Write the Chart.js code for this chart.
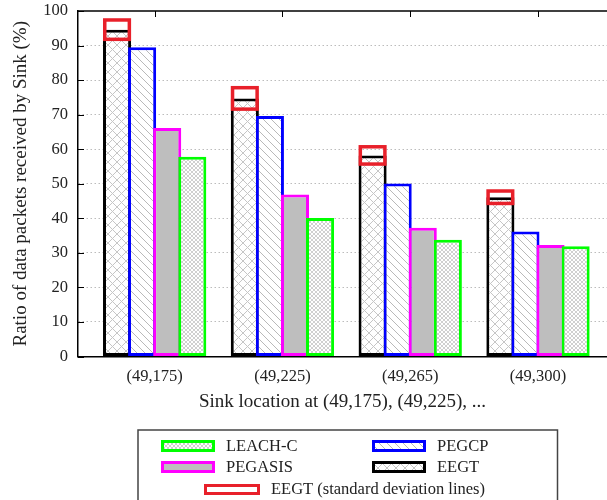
<!DOCTYPE html>
<html>
<head>
<meta charset="utf-8">
<script src="https://cdn.jsdelivr.net/npm/chart.js@4/dist/chart.umd.min.js"></script>
<style>
  html, body { margin: 0; padding: 0; background: #fff; }
  canvas { display: block; }
</style>
</head>
<body>
<canvas id="chart" width="607" height="500"></canvas>
<script>
// Ratio of data packets received by sink, per sink location
const categories = ["(49,175)", "(49,225)", "(49,265)", "(49,300)"];
const eegt    = [94.6, 74.7, 58.2, 46.1];
const eegtSd  = [2.8, 3.1, 2.5, 1.8];
const pegcp   = [89.5, 69.6, 50.1, 36.2];
const pegasis = [66.1, 46.9, 37.3, 32.3];
const leachC  = [57.8, 40.1, 33.8, 31.9];
const yTicks  = [0, 10, 20, 30, 40, 50, 60, 70, 80, 90, 100];

const FONT = "'Liberation Serif', 'Times New Roman', serif";
const TEXT = "#222";
Chart.defaults.font.family = FONT;
Chart.defaults.color = TEXT;

// hatch patterns (gnuplot-ish fill styles)
function pattern(size, fg, drawLines){
  const c = document.createElement("canvas");
  c.width = c.height = size;
  const g = c.getContext("2d");
  g.fillStyle = "#fff";
  g.fillRect(0, 0, size, size);
  g.strokeStyle = fg;
  g.lineWidth = 1;
  g.beginPath();
  drawLines(g, size);
  g.stroke();
  return g.createPattern(c, "repeat");
}
function back(g, s){ for(const k of [-s, 0, s]){ g.moveTo(k - 1, -1); g.lineTo(k + s + 1, s + 1); } }
function fwd(g, s){ for(const k of [-s, 0, s]){ g.moveTo(k - 1, s + 1); g.lineTo(k + s + 1, -1); } }

const crossBig   = pattern(9, "#c6c6c6", (g, s) => { back(g, s); fwd(g, s); });
const diagBack   = pattern(8, "#b9b9b9", back);
const crossSmall = pattern(4, "#d0d0d0", (g, s) => { back(g, s); fwd(g, s); });

const pts = arr => arr.map((v, i) => ({ x: i, y: v }));

const drawOrder = {
  id: "drawOrder",
  beforeDatasetsDraw(chart){
    // left-to-right so each bar's edge sits over the previous one
    chart.getSortedVisibleDatasetMetas().forEach(m => m.controller.draw());
    return false;
  }
};

// EEGT std-dev boxes, frame, inward ticks and the boxed legend
const extras = {
  id: "extras",
  afterDraw(chart){
    const { ctx, chartArea: a, scales: { x, y } } = chart;
    ctx.save();

    ctx.strokeStyle = "#000";
    ctx.lineWidth = 1.5;
    ctx.beginPath();
    ctx.moveTo(a.left, a.top);
    ctx.lineTo(a.right, a.top);
    ctx.stroke();

    ctx.lineWidth = 1;
    ctx.beginPath();
    y.ticks.forEach(t => {
      const py = Math.round(y.getPixelForValue(t.value)) + 0.5;
      ctx.moveTo(a.left, py); ctx.lineTo(a.left + 6, py);
    });
    x.ticks.forEach(t => {
      const px = Math.round(x.getPixelForValue(t.value)) + 0.5;
      ctx.moveTo(px, a.top); ctx.lineTo(px, a.top + 6);
    });
    ctx.stroke();

    // standard deviation boxes on EEGT bars
    const meta = chart.getDatasetMeta(0);
    ctx.strokeStyle = "#e8202a";
    ctx.lineWidth = 3.5;
    meta.data.forEach((bar, i) => {
      const top = y.getPixelForValue(eegt[i] + eegtSd[i]);
      const bot = y.getPixelForValue(eegt[i] - eegtSd[i]);
      ctx.strokeRect(bar.x - bar.width / 2 + 1.75, top, bar.width - 3.5, bot - top);
    });

    // legend
    ctx.strokeStyle = "#444";
    ctx.lineWidth = 1.5;
    ctx.strokeRect(138, 430, 419.5, 100);

    const ds = chart.data.datasets;
    const items = [
      { i: 3, x: 161, y: 440 },
      { i: 1, x: 372, y: 440 },
      { i: 2, x: 161, y: 461 },
      { i: 0, x: 372, y: 461 }
    ];
    ctx.font = `16.5px ${FONT}`;
    ctx.textBaseline = "middle";
    ctx.textAlign = "left";
    items.forEach(it => {
      const d = ds[it.i];
      ctx.fillStyle = d.backgroundColor;
      ctx.fillRect(it.x, it.y, 54, 12);
      ctx.strokeStyle = d.borderColor;
      ctx.lineWidth = 3;
      ctx.strokeRect(it.x + 1.5, it.y + 1.5, 51, 9);
      ctx.fillStyle = TEXT;
      ctx.fillText(d.label, it.x + 65, it.y + 6.5);
    });
    ctx.strokeStyle = "#e8202a";
    ctx.lineWidth = 3;
    ctx.strokeRect(205.5, 485.5, 53, 8);
    ctx.fillStyle = TEXT;
    ctx.fillText("EEGT (standard deviation lines)", 271, 490);

    ctx.restore();
  }
};

new Chart(document.getElementById("chart").getContext("2d"), {
  type: "bar",
  data: {
    datasets: [
      { label: "EEGT",    data: pts(eegt),    backgroundColor: crossBig,   borderColor: "#000000" },
      { label: "PEGCP",   data: pts(pegcp),   backgroundColor: diagBack,   borderColor: "#0000ff" },
      { label: "PEGASIS", data: pts(pegasis), backgroundColor: "#bebebe",  borderColor: "#ff00ff" },
      { label: "LEACH-C", data: pts(leachC),  backgroundColor: crossSmall, borderColor: "#00ff00" }
    ]
  },
  options: {
    responsive: false,
    animation: false,
    devicePixelRatio: 1,
    layout: { padding: { top: 11, right: 0, bottom: 87, left: 0 } },
    datasets: {
      bar: { borderWidth: 3, borderSkipped: false, categoryPercentage: 0.785, barPercentage: 1.12 }
    },
    plugins: { legend: { display: false }, tooltip: { enabled: false } },
    scales: {
      x: {
        type: "linear",
        offset: false,
        min: -0.6,
        max: 3.54,
        afterBuildTicks: s => { s.ticks = categories.map((c, i) => ({ value: i })); },
        afterFit: s => { s.height = 56.5; s.paddingLeft = 0; s.paddingRight = 0; },
        grid: { display: false },
        border: { color: "#000", width: 1.5 },
        ticks: {
          autoSkip: false, maxRotation: 0, padding: 2,
          font: { size: 16.5 }, color: TEXT,
          callback: v => categories[v]
        },
        title: {
          display: true, text: "Sink location at (49,175), (49,225), ...",
          font: { size: 19 }, color: TEXT, padding: { top: 0, bottom: 0 }
        }
      },
      y: {
        min: 0,
        max: 100,
        afterBuildTicks: s => { s.ticks = yTicks.map(v => ({ value: v })); },
        afterFit: s => { s.width = 78; s.paddingTop = 0; s.paddingBottom = 0; },
        grid: {
          drawTicks: false,
          lineWidth: 1,
          color: c => (c.tick && c.tick.value > 0 && c.tick.value < 100) ? "#bcbcbc" : "rgba(0,0,0,0)"
        },
        border: { color: "#000", width: 1.5, dash: [1.5, 2.5] },
        ticks: { padding: 10, font: { size: 16.5 }, color: TEXT },
        title: {
          display: true, text: "Ratio of data packets received by Sink (%)",
          font: { size: 19 }, color: TEXT, padding: { top: 10, bottom: 0 }
        }
      }
    }
  },
  plugins: [drawOrder, extras]
});
</script>
</body>
</html>
